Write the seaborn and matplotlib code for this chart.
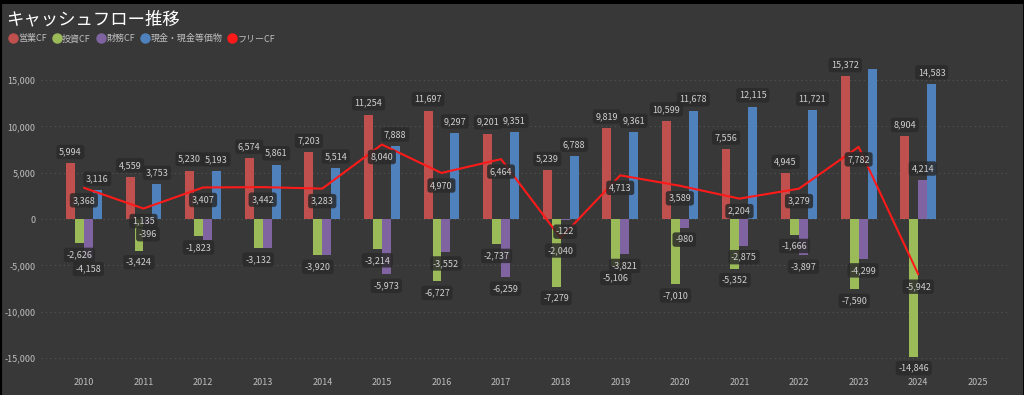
import numpy as np
import pandas as pd
import matplotlib.pyplot as plt
import seaborn as sns
from matplotlib.lines import Line2D

years = [str(y) for y in range(2010, 2026)]  # 2025 has no data yet
data_years = years[:-1]

operating = [5994, 4559, 5230, 6574, 7203, 11254, 11697, 9201, 5239, 9819, 10599, 7556, 4945, 15372, 8904]
investing = [-2626, -3424, -1823, -3132, -3920, -3214, -6727, -2737, -7279, -5106, -7010, -5352, -1666, -7590, -14846]
financing = [-4158, -396, -2250, -3150, -3880, -5973, -3552, -6259, -122, -3821, -980, -2875, -3897, -4299, 4214]
cash = [3116, 3753, 5193, 5861, 5514, 7888, 9297, 9351, 6788, 9361, 11678, 12115, 11721, 16150, 14583]
free_cf = [3368, 1135, 3407, 3442, 3283, 8040, 4970, 6464, -2040, 4713, 3589, 2204, 3279, 7782, -5942]

series_names = ['営業CF', '投資CF', '財務CF', '現金・現金等価物']
line_name = 'フリーCF'
colors = ['#C0504D', '#9BBB59', '#8064A2', '#4F81BD']
line_color = '#FF1A1A'

# labels that the original chart hides (overlapping)
hidden = {('財務CF', '2012'), ('財務CF', '2013'), ('財務CF', '2014'), ('現金・現金等価物', '2023')}

bg = '#383838'
txt = '#d0d0d0'

sns.set_theme(style='dark')
plt.rcParams['font.family'] = ['Noto Sans CJK JP', 'DejaVu Sans']

rows = []
for name, vals in zip(series_names, [operating, investing, financing, cash]):
    for y, v in zip(data_years, vals):
        rows.append({'year': y, 'kind': name, 'value': v})
df = pd.DataFrame(rows)

fig = plt.figure(figsize=(10.24, 3.95), dpi=100, facecolor=bg)
ax = fig.add_axes([0.04, 0.058, 0.944, 0.803])
ax.set_facecolor(bg)

sns.barplot(data=df, x='year', y='value', hue='kind', order=years, hue_order=series_names,
            palette=colors, width=0.6, saturation=1, linewidth=0, ax=ax, legend=False, errorbar=None)

box = dict(boxstyle='round,pad=0.3', facecolor='#2a2a2a', edgecolor='none', alpha=0.85)
for name, cont in zip(series_names, ax.containers):
    vals = df[df.kind == name]['value'].tolist()
    labels = ['' if (name, y) in hidden else f'{v:,}' for y, v in zip(data_years, vals)]
    ax.bar_label(cont, labels=labels, padding=5, fontsize=6.5, color=txt, bbox=box)

xpos = np.arange(len(data_years))
sns.lineplot(x=xpos, y=free_cf, color=line_color, linewidth=1.5, ax=ax)
for x, v in zip(xpos, free_cf):
    ax.annotate(f'{v:,}', (x, v), xytext=(0, -9), textcoords='offset points',
                ha='center', va='center', fontsize=6.5, color=txt, bbox=box)

ax.set_xlim(-0.72, 15.5)
ax.set_ylim(-16500, 17700)
ax.set_yticks(range(-15000, 15001, 5000))
ax.set_yticklabels([f'{t:,}' for t in range(-15000, 15001, 5000)])
ax.yaxis.grid(True, color='#555555', linestyle=(0, (1, 3)), linewidth=0.8)
ax.xaxis.grid(False)
ax.tick_params(axis='both', colors='#bfbfbf', labelsize=6.5, length=0, pad=4)
ax.set_xlabel('')
ax.set_ylabel('')
for s in ax.spines.values():
    s.set_visible(False)

fig.text(0.006, 0.952, 'キャッシュフロー推移', color='white', fontsize=12.5, va='center', ha='left')

handles = [Line2D([], [], marker='o', linestyle='', markersize=6.5, color=c) for c in colors]
handles.append(Line2D([], [], marker='o', linestyle='', markersize=6.5, color=line_color))
fig.legend(handles, series_names + [line_name], loc='center left', bbox_to_anchor=(0.0, 0.902),
           ncol=5, frameon=False, fontsize=6.5, handletextpad=0.1, columnspacing=0.6,
           labelcolor='#bfbfbf', handlelength=1.0)

# black frame: thick top/left, thin right, none at bottom
fig.add_artist(Line2D([0, 1], [1, 1], transform=fig.transFigure, color='black', linewidth=5))
fig.add_artist(Line2D([0, 0], [0, 1], transform=fig.transFigure, color='black', linewidth=3))
fig.add_artist(Line2D([1, 1], [0, 1], transform=fig.transFigure, color='black', linewidth=2))

fig.savefig('out.png', dpi=100, facecolor=bg)
